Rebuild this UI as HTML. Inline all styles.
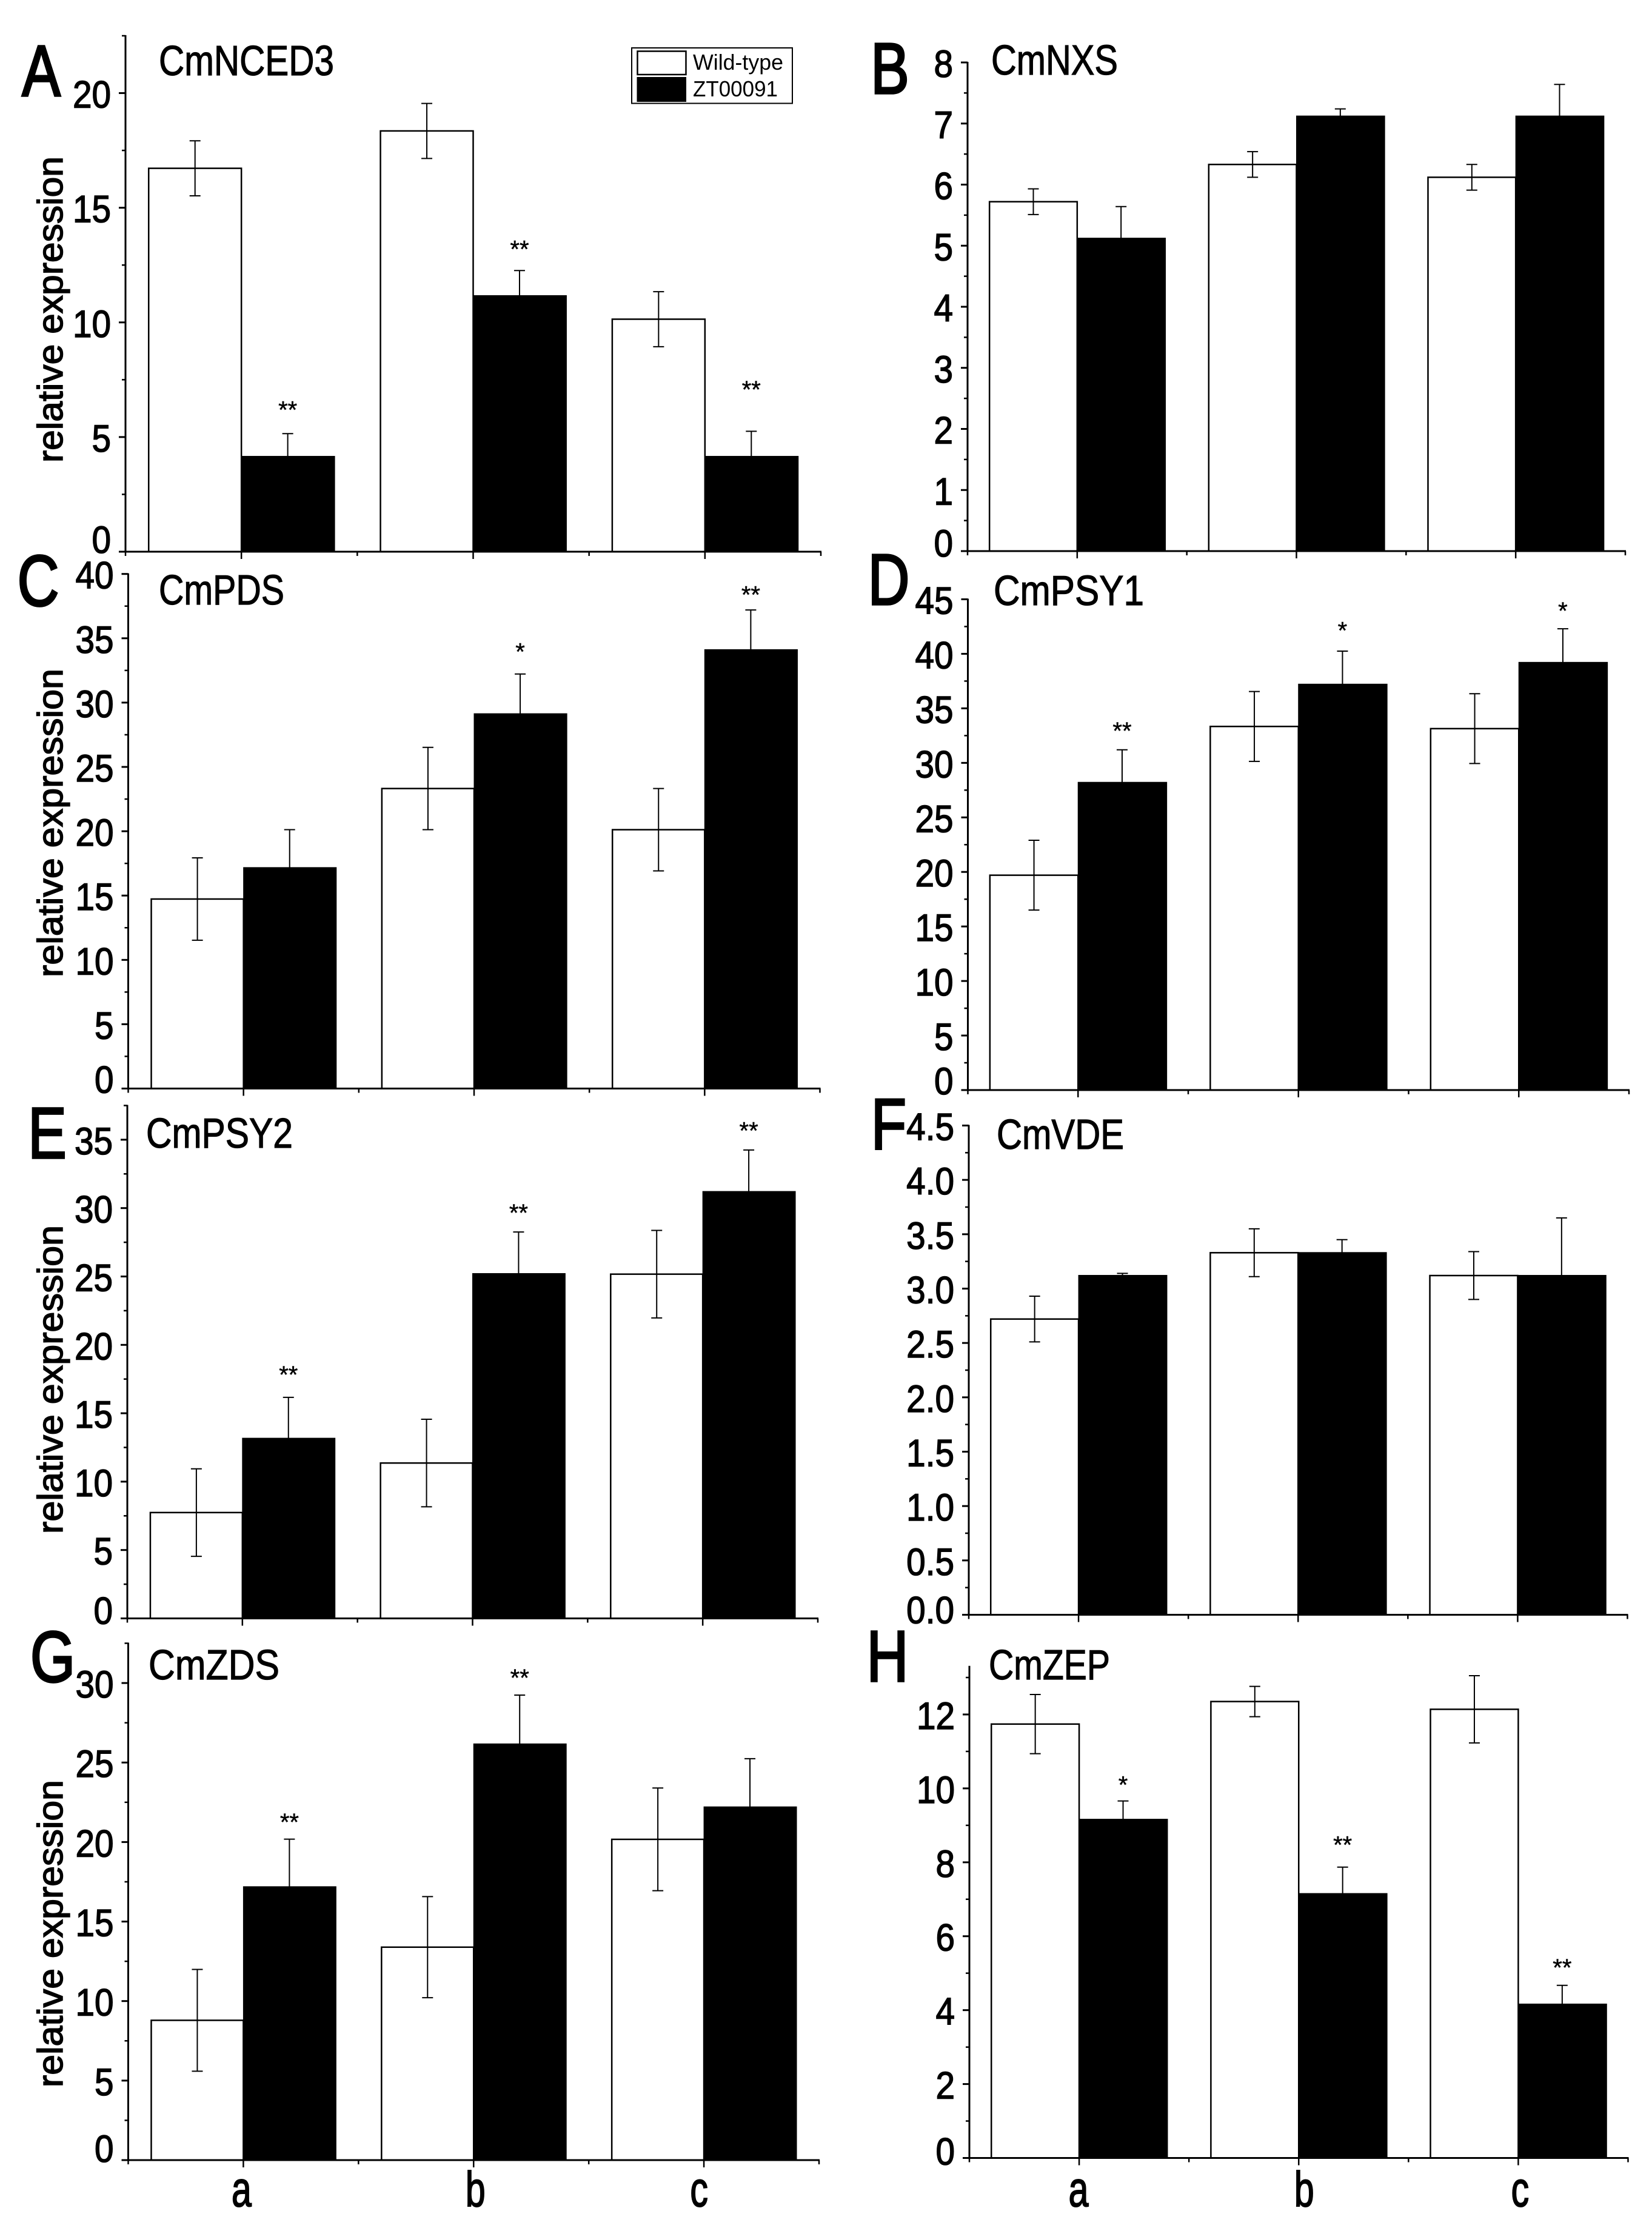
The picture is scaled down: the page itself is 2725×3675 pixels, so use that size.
<!DOCTYPE html>
<html lang="en">
<head>
<meta charset="utf-8">
<title>Relative expression of carotenoid pathway genes</title>
<style>
html,body{margin:0;padding:0;background:#fff;}
svg{display:block;}
text{font-family:"Liberation Sans",sans-serif;fill:#000;}
</style>
</head>
<body>
<svg id="figure" xmlns="http://www.w3.org/2000/svg" width="2725" height="3675" viewBox="0 0 2725 3675">
<rect x="0" y="0" width="2725" height="3675" fill="#fff"/>

<g id="plots"></g>

<g font-size="119" text-anchor="middle" stroke="#000" stroke-width="3.5">
<text transform="translate(68,158) scale(.8,1)">A</text>
<text transform="translate(1468,154) scale(.8,1)">B</text>
<text transform="translate(63,999) scale(.8,1)">C</text>
<text transform="translate(1466,997) scale(.8,1)">D</text>
<text transform="translate(78,1910) scale(.8,1)">E</text>
<text transform="translate(1466,1895) scale(.8,1)">F</text>
<text transform="translate(87,2774) scale(.8,1)">G</text>
<text transform="translate(1464,2773) scale(.8,1)">H</text>
</g>

<g font-size="70" stroke="#000" stroke-width="1.2">
<text x="262" y="124" textLength="289" lengthAdjust="spacingAndGlyphs">CmNCED3</text>
<text x="1635" y="123" textLength="209" lengthAdjust="spacingAndGlyphs">CmNXS</text>
<text x="262" y="997" textLength="207" lengthAdjust="spacingAndGlyphs">CmPDS</text>
<text x="1639" y="998" textLength="248" lengthAdjust="spacingAndGlyphs">CmPSY1</text>
<text x="241" y="1893" textLength="242" lengthAdjust="spacingAndGlyphs">CmPSY2</text>
<text x="1644" y="1895" textLength="210" lengthAdjust="spacingAndGlyphs">CmVDE</text>
<text x="245" y="2770" textLength="216" lengthAdjust="spacingAndGlyphs">CmZDS</text>
<text x="1631" y="2770" textLength="200" lengthAdjust="spacingAndGlyphs">CmZEP</text>
</g>

<g font-size="58" stroke="#000" stroke-width="1.5">
<text transform="translate(103,763) rotate(-90)" textLength="505" lengthAdjust="spacingAndGlyphs">relative expression</text>
<text transform="translate(103,1612) rotate(-90)" textLength="509" lengthAdjust="spacingAndGlyphs">relative expression</text>
<text transform="translate(103,2530) rotate(-90)" textLength="509" lengthAdjust="spacingAndGlyphs">relative expression</text>
<text transform="translate(103,3443) rotate(-90)" textLength="507" lengthAdjust="spacingAndGlyphs">relative expression</text>
</g>

<g>
<rect x="1042" y="79" width="265" height="91.500" fill="#fff" stroke="#000" stroke-width="2"/>
<rect x="1051.500" y="84.500" width="80" height="38.500" fill="#fff" stroke="#000" stroke-width="2.500"/>
<rect x="1050.500" y="127" width="81.500" height="41" fill="#000"/>
<text x="1143" y="115" font-size="36" textLength="149" lengthAdjust="spacingAndGlyphs">Wild-type</text>
<text x="1143" y="159" font-size="36" textLength="140" lengthAdjust="spacingAndGlyphs">ZT00091</text>
</g>
</svg>

<script>
// Shared category names
var categories = ['a', 'b', 'c'];

// Panel A: CmNCED3
var nced3Wild = [16.72, 18.35, 10.14];
var nced3Mutant = [4.15, 11.16, 4.15];
var nced3WildErr = [1.2, 1.2, 1.2];
var nced3MutantErr = [1.0, 1.1, 1.1];
var nced3Marks = ['**', '**', '**'];
var nced3MarkLevels = [6.36, 13.37, 7.25];
var nced3Ticks = ['0', '5', '10', '15', '20'];
var nced3Minor = [2.5, 7.5, 12.5, 17.5, 22.5];

// Panel B: CmNXS
var nxsWild = [5.72, 6.33, 6.12];
var nxsMutant = [5.12, 7.12, 7.12];
var nxsWildErr = [0.21, 0.21, 0.21];
var nxsMutantErr = [0.52, 0.12, 0.52];
var nxsMarks = ['', '', ''];
var nxsMarkLevels = [0, 0, 0];
var nxsTicks = ['0', '1', '2', '3', '4', '5', '6', '7', '8'];
var nxsMinor = [0.5, 1.5, 2.5, 3.5, 4.5, 5.5, 6.5, 7.5];

// Panel C: CmPDS
var pdsWild = [14.73, 23.32, 20.12];
var pdsMutant = [17.16, 29.12, 34.1];
var pdsWildErr = [3.2, 3.2, 3.2];
var pdsMutantErr = [2.96, 3.1, 3.1];
var pdsMarks = ['', '*', '**'];
var pdsMarkLevels = [0, 34.25, 38.68];
var pdsTicks = ['0', '5', '10', '15', '20', '25', '30', '35', '40'];
var pdsMinor = [2.5, 7.5, 12.5, 17.5, 22.5, 27.5, 32.5, 37.5];

// Panel D: CmPSY1
var psy1Wild = [19.7, 33.34, 33.14];
var psy1Mutant = [28.2, 37.2, 39.2];
var psy1WildErr = [3.2, 3.2, 3.2];
var psy1MutantErr = [3.0, 3.05, 3.1];
var psy1Marks = ['**', '*', '*'];
var psy1MarkLevels = [33.3, 42.5, 44.3];
var psy1Ticks = ['0', '5', '10', '15', '20', '25', '30', '35', '40', '45'];
var psy1Minor = [2.5, 7.5, 12.5, 17.5, 22.5, 27.5, 32.5, 37.5, 42.5];

// Panel E: CmPSY2
var psy2Wild = [7.74, 11.36, 25.17];
var psy2Mutant = [13.16, 25.2, 31.2];
var psy2WildErr = [3.2, 3.2, 3.2];
var psy2MutantErr = [3.0, 3.05, 3.05];
var psy2Marks = ['**', '**', '**'];
var psy2MarkLevels = [18.1, 29.95, 35.94];
var psy2Ticks = ['0', '5', '10', '15', '20', '25', '30', '35'];
var psy2Minor = [2.5, 7.5, 12.5, 17.5, 22.5, 27.5, 32.5, 37.5];

// Panel F: CmVDE
var vdeWild = [2.72, 3.33, 3.12];
var vdeMutant = [3.12, 3.33, 3.12];
var vdeWildErr = [0.21, 0.22, 0.22];
var vdeMutantErr = [0.02, 0.12, 0.53];
var vdeMarks = ['', '', ''];
var vdeMarkLevels = [0, 0, 0];
var vdeTicks = ['0.0', '0.5', '1.0', '1.5', '2.0', '2.5', '3.0', '3.5', '4.0', '4.5'];
var vdeMinor = [0.25, 0.75, 1.25, 1.75, 2.25, 2.75, 3.25, 3.75, 4.25];

// Panel G: CmZDS
var zdsWild = [8.79, 13.39, 20.17];
var zdsMutant = [17.18, 26.16, 22.2];
var zdsWildErr = [3.2, 3.18, 3.23];
var zdsMutantErr = [3.0, 3.08, 3.04];
var zdsMarks = ['**', '**', ''];
var zdsMarkLevels = [21.5, 30.57, 0];
var zdsTicks = ['0', '5', '10', '15', '20', '25', '30'];
var zdsMinor = [2.5, 7.5, 12.5, 17.5, 22.5, 27.5, 32.5];

// Panel H: CmZEP
var zepWild = [11.74, 12.35, 12.14];
var zepMutant = [9.16, 7.15, 4.16];
var zepWildErr = [0.8, 0.41, 0.91];
var zepMutantErr = [0.5, 0.72, 0.51];
var zepMarks = ['*', '**', '**'];
var zepMarkLevels = [10.2, 8.58, 5.26];
var zepTicks = ['0', '2', '4', '6', '8', '10', '12'];
var zepMinor = [1, 3, 5, 7, 9, 11, 13];

// Panel frames (pixel geometry lives here, values live above)
var panels = [
  {id: 'a', left: 207, right: 1354, base: 910, top: 59, max: 22.5, zeroShift: -20, wild: nced3Wild, mutant: nced3Mutant, wildErr: nced3WildErr, mutantErr: nced3MutantErr, marks: nced3Marks, levels: nced3MarkLevels, ticks: nced3Ticks, minor: nced3Minor, catShift: null},
  {id: 'b', left: 1596, right: 2681, base: 909, top: 103, max: 8, zeroShift: -13, wild: nxsWild, mutant: nxsMutant, wildErr: nxsWildErr, mutantErr: nxsMutantErr, marks: nxsMarks, levels: nxsMarkLevels, ticks: nxsTicks, minor: nxsMinor, catShift: null},
  {id: 'c', left: 211.5, right: 1352.5, base: 1795.5, top: 946.7, max: 40, zeroShift: -15, wild: pdsWild, mutant: pdsMutant, wildErr: pdsWildErr, mutantErr: pdsMutantErr, marks: pdsMarks, levels: pdsMarkLevels, ticks: pdsTicks, minor: pdsMinor, catShift: null},
  {id: 'd', left: 1596.5, right: 2687, base: 1798, top: 988.5, max: 45, zeroShift: -15, wild: psy1Wild, mutant: psy1Mutant, wildErr: psy1WildErr, mutantErr: psy1MutantErr, marks: psy1Marks, levels: psy1MarkLevels, ticks: psy1Ticks, minor: psy1Minor, catShift: null},
  {id: 'e', left: 210, right: 1349, base: 2669.5, top: 1823.5, max: 37.5, zeroShift: -13, wild: psy2Wild, mutant: psy2Mutant, wildErr: psy2WildErr, mutantErr: psy2MutantErr, marks: psy2Marks, levels: psy2MarkLevels, ticks: psy2Ticks, minor: psy2Minor, catShift: null},
  {id: 'f', left: 1598, right: 2684.5, base: 2663.5, top: 1856.5, max: 4.5, zeroShift: -8, wild: vdeWild, mutant: vdeMutant, wildErr: vdeWildErr, mutantErr: vdeMutantErr, marks: vdeMarks, levels: vdeMarkLevels, ticks: vdeTicks, minor: vdeMinor, catShift: null},
  {id: 'g', left: 211.5, right: 1351, base: 3563, top: 2710.5, max: 32.5, zeroShift: -19, wild: zdsWild, mutant: zdsMutant, wildErr: zdsWildErr, mutantErr: zdsMutantErr, marks: zdsMarks, levels: zdsMarkLevels, ticks: zdsTicks, minor: zdsMinor, catShift: [-3, 3, -8]},
  {id: 'h', left: 1599, right: 2685.5, base: 3559.5, top: 2748.7, max: 13.3, zeroShift: -11, wild: zepWild, mutant: zepMutant, wildErr: zepWildErr, mutantErr: zepMutantErr, marks: zepMarks, levels: zepMarkLevels, ticks: zepTicks, minor: zepMinor, catShift: [-1, 9, 3]}
];

var SVG_NS = 'http://www.w3.org/2000/svg';

function make(tag, attrs, parent) {
  var el = document.createElementNS(SVG_NS, tag);
  for (var key in attrs) {
    el.setAttribute(key, attrs[key]);
  }
  parent.appendChild(el);
  return el;
}

function drawError(parent, cx, yScale, value, err, name, width) {
  var g = make('g', {stroke: '#000', 'stroke-width': width, fill: 'none'}, parent);
  
  
  var hi = yScale(value + err);
  var lo = yScale(value - err);
  make('line', {x1: cx, x2: cx, y1: hi, y2: lo}, g);
  make('line', {x1: cx - 9, x2: cx + 9, y1: hi, y2: hi}, g);
  make('line', {x1: cx - 9, x2: cx + 9, y1: lo, y2: lo}, g);
}

function drawPanel(p) {
  var root = document.getElementById('plots');
  var group = make('g', {}, root);
  
  

  var step = (p.right - p.left) / categories.length;
  var barWidth = step * 0.4;
  function xScale(i) { return p.left + (i + 0.5) * step; }
  function yScale(v) { return p.base - v * (p.base - p.top) / p.max; }

  // wild-type bars and their error bars
  categories.forEach(function (cat, i) {
    var cx = xScale(i);
    var y = yScale(p.wild[i]);
    var bar = make('rect', {x: cx - barWidth, y: y, width: barWidth, height: p.base - y, fill: '#fff', stroke: '#000', 'stroke-width': 2.5}, group);
    
    
    drawError(group, cx - barWidth / 2, yScale, p.wild[i], p.wildErr[i], 'error-bar-wild-type-' + cat, 2);
  });

  // mutant error bars and bars
  categories.forEach(function (cat, i) {
    var cx = xScale(i);
    var y = yScale(p.mutant[i]);
    drawError(group, cx + barWidth / 2, yScale, p.mutant[i], p.mutantErr[i], 'error-bar-zt00091-' + cat, 2);
    var bar = make('rect', {x: cx - 0.5, y: y - 1, width: barWidth + 2, height: p.base - y + 1, fill: '#000'}, group);
    
    
    if (p.marks[i]) {
      var mark = make('text', {x: cx + barWidth / 2, y: yScale(p.levels[i]) + 20, 'font-size': 40, 'text-anchor': 'middle', stroke: '#000', 'stroke-width': 0.5}, group);
      
      
      mark.textContent = p.marks[i];
    }
  });

  // y axis
  var yAxis = make('line', {x1: p.left, x2: p.left, y1: p.top - 1, y2: p.base + 1.5, stroke: '#000', 'stroke-width': 3}, group);
  
  

  p.ticks.forEach(function (label) {
    var v = parseFloat(label);
    var y = yScale(v);
    var tick = make('line', {x1: p.left - 11, x2: p.left, y1: y, y2: y, stroke: '#000', 'stroke-width': 3}, group);
    
    
    var dy = v === 0 ? p.zeroShift : 2;
    var text = make('text', {transform: 'translate(' + (p.left - 24) + ',' + (y + 22 + dy) + ') scale(.9,1)', 'font-size': 63, 'text-anchor': 'end', stroke: '#000', 'stroke-width': 1.5}, group);
    
    
    text.textContent = label;
  });

  p.minor.forEach(function (v) {
    var y = yScale(v);
    var tick = make('line', {x1: p.left - 6, x2: p.left, y1: y, y2: y, stroke: '#000', 'stroke-width': 2.5}, group);
    
    
  });

  // x axis
  var xAxis = make('line', {x1: p.left - 1, x2: p.right + 1, y1: p.base, y2: p.base, stroke: '#000', 'stroke-width': 3}, group);
  
  

  for (var b = 0; b <= categories.length; b++) {
    var bx = p.left + b * step;
    var edge = make('line', {x1: bx, x2: bx, y1: p.base, y2: p.base + 7, stroke: '#000', 'stroke-width': 2.5}, group);
    
    
  }

  categories.forEach(function (cat, i) {
    var cx = xScale(i);
    var tick = make('line', {x1: cx, x2: cx, y1: p.base, y2: p.base + 12, stroke: '#000', 'stroke-width': 2.5}, group);
    
    
    if (p.catShift) {
      var label = make('text', {transform: 'translate(' + (cx + p.catShift[i]) + ',3639) scale(.72,1)', 'font-size': 82, 'text-anchor': 'middle', stroke: '#000', 'stroke-width': 2}, group);
      
      
      label.textContent = cat;
    }
  });
}

panels.forEach(drawPanel);
</script>
</body>
</html>
